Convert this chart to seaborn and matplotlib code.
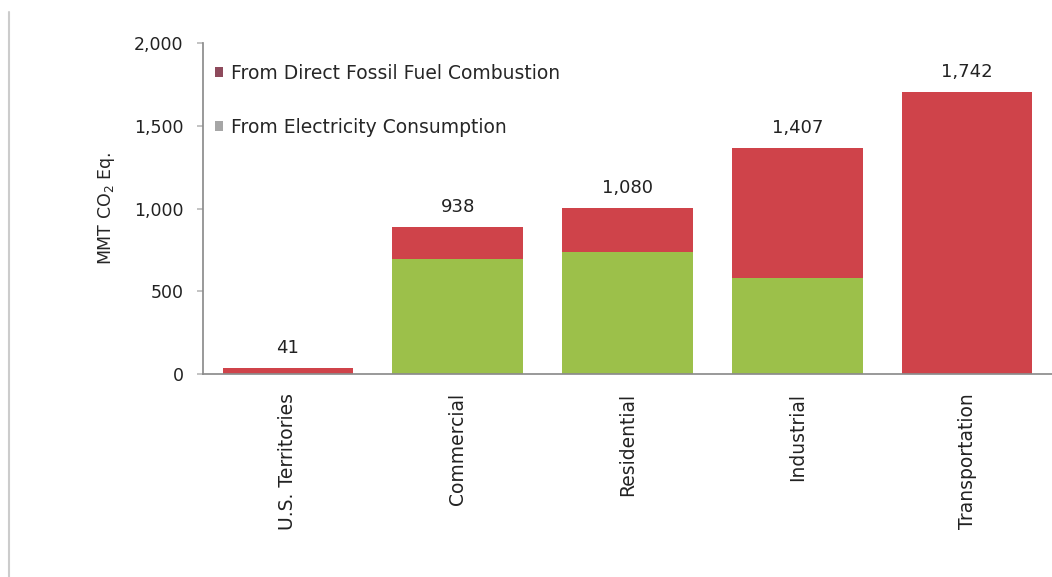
import numpy as np
import pandas as pd
import matplotlib
matplotlib.use('Agg')
import matplotlib.pyplot as plt
from matplotlib.patches import Patch
from matplotlib.lines import Line2D
import seaborn as sns

# values (MMT CO2 Eq.)
categories = ['U.S. Territories', 'Commercial', 'Residential', 'Industrial', 'Transportation']
electricity = [0, 695, 739, 578, 0]
fossil = [35, 195, 266, 789, 1704]
value_labels = ['41', '938', '1,080', '1,407', '1,742']

red = '#cf434a'
green = '#9cc04a'

df = pd.DataFrame({'sector': categories,
                   'electricity': electricity,
                   'fossil': fossil})
df['total'] = df['electricity'] + df['fossil']

sns.set_theme(style='white')
plt.rcParams['font.family'] = ['DejaVu Sans']

fig = plt.figure(figsize=(10.52, 5.77), dpi=100)
ax = fig.add_axes([0.193, 0.352, 0.807, 0.573])

# total in red, electricity part drawn over it in green
sns.barplot(data=df, x='sector', y='total', color=red, saturation=1,
            width=0.77, linewidth=0, ax=ax)
sns.barplot(data=df, x='sector', y='electricity', color=green, saturation=1,
            width=0.77, linewidth=0, ax=ax)

for i, lab in enumerate(value_labels):
    ax.annotate(lab, (i, df['total'][i]), xytext=(0, 8),
                textcoords='offset points', ha='center', va='bottom',
                fontsize=13, color='#222222')

ax.set_xlim(-0.5, 4.5)
ax.set_ylim(0, 2000)
ax.set_yticks([0, 500, 1000, 1500, 2000])
ax.set_yticklabels(['0', '500', '1,000', '1,500', '2,000'], fontsize=12.5)
ax.set_xticks(range(len(categories)))
ax.set_xticklabels(categories, rotation=90, fontsize=13.5)
ax.set_xlabel('')
ax.set_ylabel('MMT CO$_2$ Eq.', fontsize=12.5, labelpad=12)

for s in ['top', 'right']:
    ax.spines[s].set_visible(False)
ax.spines['left'].set_color('#8c8c8c')
ax.spines['bottom'].set_color('#8c8c8c')
ax.tick_params(axis='y', which='both', left=True, length=4, color='#bbbbbb',
               pad=10, colors='#222222')
ax.tick_params(axis='x', bottom=False, pad=8, colors='#222222')

handles = [Patch(facecolor='#8e4a5c', edgecolor='none'),
           Patch(facecolor='#a6a6a6', edgecolor='none')]
ax.legend(handles, ['From Direct Fossil Fuel Combustion', 'From Electricity Consumption'],
          loc='upper left', bbox_to_anchor=(0.005, 0.96), frameon=False,
          fontsize=13.5, handlelength=0.45, handleheight=0.45, handletextpad=0.4,
          labelspacing=1.85, borderaxespad=0)

# faint frame line on the left
fig.add_artist(Line2D([0.009, 0.009], [0.0, 0.98], color='#cccccc', lw=1.5,
                      transform=fig.transFigure))

fig.savefig('out.png', dpi=100)
